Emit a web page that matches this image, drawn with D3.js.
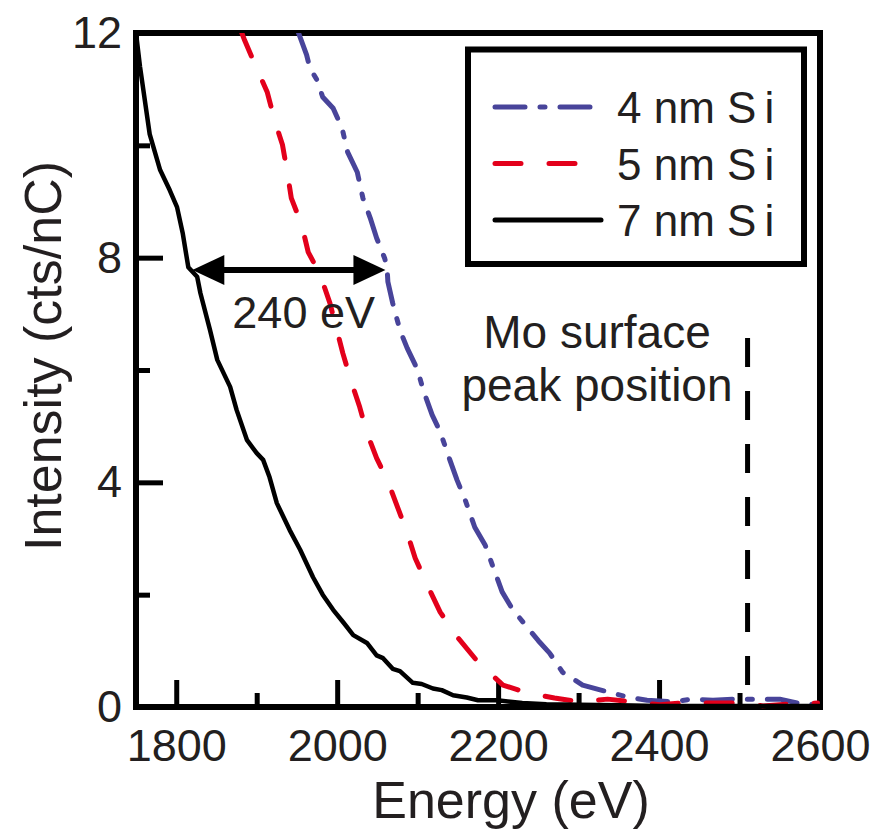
<!DOCTYPE html>
<html>
<head>
<meta charset="utf-8">
<script src="https://cdn.jsdelivr.net/npm/d3@7"></script>
<style>
  html, body { margin: 0; padding: 0; background: #ffffff; }
  svg { display: block; }
  text { font-family: "Liberation Sans", Arial, Helvetica, sans-serif; fill: #231f20; }
</style>
</head>
<body>
<svg id="chart" width="879" height="830"></svg>
<script>
// Tick values
const energyMajorTicks = [1800, 2000, 2200, 2400, 2600];
const energyMinorTicks = [1900, 2100, 2300, 2500];
const intensityMajorTicks = [0, 4, 8, 12];
const intensityMinorTicks = [2, 6, 10];

// Spectra: [energy (eV), intensity (cts/nC)]
const si4nm = [
  [1952, 12.0], [1962, 11.61], [1966, 11.38], [1975, 11.16], [1982, 10.86],
  [1995, 10.66], [2006, 10.31], [2013, 9.88], [2025, 9.52], [2032, 9.06],
  [2041, 8.71], [2049, 8.35], [2059, 7.99], [2062, 7.82], [2063, 7.57],
  [2069, 7.19], [2078, 6.71], [2087, 6.39], [2100, 6.00], [2107, 5.64],
  [2118, 5.20], [2128, 4.90], [2140, 4.40], [2149, 4.04], [2159, 3.69],
  [2171, 3.20], [2184, 2.88], [2192, 2.56], [2205, 2.05], [2217, 1.76],
  [2236, 1.42], [2250, 1.18], [2264, 0.96], [2280, 0.62], [2305, 0.39],
  [2336, 0.27], [2360, 0.18], [2385, 0.12], [2417, 0.09], [2441, 0.14],
  [2467, 0.12], [2492, 0.14], [2519, 0.14], [2550, 0.14], [2579, 0.05],
  [2590, 0.05]
];
const si5nm = [
  [1881, 12.02], [1885, 11.87], [1900, 11.37], [1913, 10.95], [1923, 10.41],
  [1932, 10.01], [1938, 9.52], [1943, 9.06], [1956, 8.58], [1964, 8.10],
  [1979, 7.69], [1991, 7.19], [2007, 6.30], [2018, 5.77], [2028, 5.34],
  [2037, 4.88], [2049, 4.43], [2063, 4.02], [2075, 3.56], [2087, 3.10],
  [2097, 2.65], [2113, 2.14], [2128, 1.69], [2149, 1.25], [2175, 0.80],
  [2206, 0.39], [2237, 0.25], [2270, 0.16], [2302, 0.09], [2336, 0.14],
  [2367, 0.09], [2401, 0.04], [2426, 0.07], [2467, 0.07], [2497, 0.07],
  [2529, 0.02], [2559, 0.05], [2597, 0.07]
];
const si7nm = [
  [1750, 12.0], [1755, 11.4], [1767, 10.2], [1780, 9.56], [1792, 9.2],
  [1801, 8.9], [1808, 8.44], [1815, 7.83], [1826, 7.66], [1830, 7.37],
  [1842, 6.71], [1851, 6.18], [1867, 5.70], [1875, 5.29], [1888, 4.75],
  [1900, 4.52], [1908, 4.40], [1916, 4.09], [1925, 3.63], [1941, 3.15],
  [1954, 2.80], [1970, 2.31], [1982, 2.0], [1995, 1.73], [2008, 1.5],
  [2020, 1.28], [2037, 1.14], [2049, 0.92], [2057, 0.87], [2069, 0.68],
  [2078, 0.64], [2094, 0.43], [2105, 0.41], [2119, 0.33], [2130, 0.30],
  [2144, 0.21], [2161, 0.17], [2175, 0.12], [2199, 0.12], [2230, 0.07],
  [2260, 0.05], [2300, 0.04], [2350, 0.03], [2400, 0.02], [2450, 0.02],
  [2500, 0.02], [2550, 0.02], [2600, 0.02]
];

// Annotations
const shiftArrow = { from: 1820, to: 2060, level: 7.78, label: "240 eV" };
const moSurfacePeak = { energy: 2510, top: 6.57, lines: ["Mo surface", "peak position"] };

const seriesList = [
  { name: "4 nm Si", data: si4nm, color: "#48449a", width: 5, dash: "30,15,5,15" },
  { name: "5 nm Si", data: si5nm, color: "#e3001b", width: 5, dash: "26,28" },
  { name: "7 nm Si", data: si7nm, color: "#000000", width: 4.5, dash: null }
];

const svg = d3.select("#chart");
const plotLeft = 136, plotRight = 820, plotTop = 33, plotBottom = 707;

const x = d3.scaleLinear().domain([1750, 2600]).range([plotLeft, plotRight]);
const y = d3.scaleLinear().domain([0, 12]).range([plotBottom, plotTop]);

// Clip region for curves
svg.append("defs").append("clipPath").attr("id", "plotClip")
  .append("rect").attr("x", plotLeft).attr("y", plotTop)
  .attr("width", plotRight - plotLeft + 3).attr("height", plotBottom - plotTop + 3);

// Axes (ticks point inward)
function styleAxis(g) {
  g.select(".domain").remove();
  g.selectAll(".tick line").attr("stroke", "#000").attr("stroke-width", 5);
  g.selectAll(".tick text").attr("fill", "#231f20")
    .style("font-size", "45px");
}

svg.append("g").attr("transform", `translate(0,${plotBottom})`)
  .call(d3.axisBottom(x).tickValues(energyMajorTicks).tickSize(-27).tickPadding(22).tickFormat(d3.format("d")))
  .call(styleAxis);
svg.append("g").attr("transform", `translate(0,${plotBottom})`)
  .call(d3.axisBottom(x).tickValues(energyMinorTicks).tickSize(-14).tickFormat(""))
  .call(styleAxis);
svg.append("g").attr("transform", `translate(${plotLeft},0)`)
  .call(d3.axisLeft(y).tickValues(intensityMajorTicks).tickSize(-27).tickPadding(14).tickFormat(d3.format("d")))
  .call(styleAxis);
svg.append("g").attr("transform", `translate(${plotLeft},0)`)
  .call(d3.axisLeft(y).tickValues(intensityMinorTicks).tickSize(-14).tickFormat(""))
  .call(styleAxis);

// Plot frame
svg.append("rect")
  .attr("x", plotLeft).attr("y", plotTop)
  .attr("width", plotRight - plotLeft).attr("height", plotBottom - plotTop)
  .attr("fill", "none").attr("stroke", "#000").attr("stroke-width", 6);

// Axis titles
svg.append("text")
  .attr("x", (plotLeft + plotRight) / 2 + 33).attr("y", 818)
  .attr("text-anchor", "middle")
  .style("font-size", "52px")
  .text("Energy (eV)");
svg.append("text")
  .attr("transform", `translate(61,356) rotate(-90)`)
  .attr("text-anchor", "middle")
  .style("font-size", "52px")
  .text("Intensity (cts/nC)");

// Curves
const line = d3.line().x(d => x(d[0])).y(d => y(d[1]));
const curves = svg.append("g").attr("clip-path", "url(#plotClip)");
seriesList.forEach(s => {
  curves.append("path")
    .datum(s.data)
    .attr("d", line)
    .attr("fill", "none")
    .attr("stroke", s.color)
    .attr("stroke-width", s.width)
    .attr("stroke-linecap", "round")
    .attr("stroke-linejoin", "round")
    .attr("stroke-dasharray", s.dash);
});

// Mo surface peak marker
svg.append("line")
  .attr("x1", x(moSurfacePeak.energy)).attr("x2", x(moSurfacePeak.energy))
  .attr("y1", y(moSurfacePeak.top)).attr("y2", y(0))
  .attr("stroke", "#000").attr("stroke-width", 5)
  .attr("stroke-dasharray", "29,24");
const moText = svg.append("text")
  .attr("text-anchor", "middle")
  .style("font-size", "46px");
moSurfacePeak.lines.forEach((t, i) => {
  moText.append("tspan").attr("x", 597).attr("y", 348 + i * 53).text(t);
});

// Energy shift arrow
const ax1 = x(shiftArrow.from), ax2 = x(shiftArrow.to), ay = y(shiftArrow.level);
const headLen = 32, headHalf = 15;
svg.append("line")
  .attr("x1", ax1 + headLen - 2).attr("x2", ax2 - headLen + 2)
  .attr("y1", ay).attr("y2", ay)
  .attr("stroke", "#000").attr("stroke-width", 6);
svg.append("path")
  .attr("d", `M${ax1},${ay} L${ax1 + headLen},${ay - headHalf} L${ax1 + headLen},${ay + headHalf} Z`)
  .attr("fill", "#000");
svg.append("path")
  .attr("d", `M${ax2},${ay} L${ax2 - headLen},${ay - headHalf} L${ax2 - headLen},${ay + headHalf} Z`)
  .attr("fill", "#000");
svg.append("text")
  .attr("x", ax1 + 40).attr("y", ay + 58)
  .style("font-size", "45px")
  .text(shiftArrow.label);

// Legend
const legend = svg.append("g");
legend.append("rect")
  .attr("x", 468).attr("y", 49.5).attr("width", 336).attr("height", 214.5)
  .attr("fill", "#fff").attr("stroke", "#000").attr("stroke-width", 6);
seriesList.forEach((s, i) => {
  const ly = 107 + i * 56.5;
  legend.append("line")
    .attr("x1", 495).attr("x2", 601)
    .attr("y1", ly).attr("y2", ly)
    .attr("stroke", s.color).attr("stroke-width", 5)
    .attr("stroke-linecap", "round")
    .attr("stroke-dasharray", s.dash);
  const t = legend.append("text")
    .attr("x", 617).attr("y", ly + 16)
    .style("font-size", "44px");
  const parts = s.name.split("Si");
  t.append("tspan").text(parts[0] + "S");
  t.append("tspan").attr("dx", 8).text("i");
});
</script>
</body>
</html>
